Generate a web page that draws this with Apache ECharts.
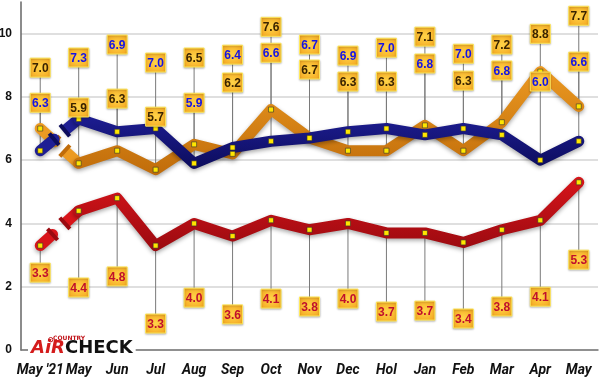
<!DOCTYPE html>
<html>
<head>
<meta charset="utf-8">
<script src="https://cdn.jsdelivr.net/npm/echarts@6/dist/echarts.min.js"></script>
<style>
html,body{margin:0;padding:0;background:#fff;}
#chart{width:600px;height:383px;}
</style>
</head>
<body>
<div id="chart"></div>
<script>
const categories = ["May '21","May","Jun","Jul","Aug","Sep","Oct","Nov","Dec","Hol","Jan","Feb","Mar","Apr","May"];
const orangeValues = [7.0,5.9,6.3,5.7,6.5,6.2,7.6,6.7,6.3,6.3,7.1,6.3,7.2,8.8,7.7];
const blueValues   = [6.3,7.3,6.9,7.0,5.9,6.4,6.6,6.7,6.9,7.0,6.8,7.0,6.8,6.0,6.6];
const redValues    = [3.3,4.4,4.8,3.3,4.0,3.6,4.1,3.8,4.0,3.7,3.7,3.4,3.8,4.1,5.3];
// where each value box sits, in axis units
const orangeLabelAt = [8.91,7.65,7.93,7.36,9.23,8.44,10.2,8.85,8.47,8.47,9.89,8.5,9.64,9.98,10.55];
const blueLabelAt   = [7.8,9.23,9.64,9.07,7.8,9.32,9.38,9.64,9.29,9.54,9.04,9.35,8.82,8.47,9.1];
const redLabelAt    = [2.43,1.96,2.31,0.82,1.64,1.11,1.61,1.36,1.61,1.2,1.23,0.98,1.36,1.67,2.84];
const yMin = 0, yMax = 11, yInterval = 2;

const seriesDefs = [
  {name:'orange', values:orangeValues, labelAt:orangeLabelAt, color:'#ec9a22', dark:'#c06c0a', text:'#3a2400', brk:[0.38,0.64]},
  {name:'blue', values:blueValues, labelAt:blueLabelAt, color:'#1e1e94', dark:'#0c0c5c', text:'#1414e6', brk:[0.36,0.64]},
  {name:'red', values:redValues, labelAt:redLabelAt, color:'#d8141a', dark:'#9a0a10', text:'#c0102c', brk:[0.32,0.64]}
];

const chart = echarts.init(document.getElementById('chart'));

const labelData = [];
seriesDefs.forEach((s, si) => {
  s.values.forEach((v, i) => labelData.push([i, v, s.labelAt[i], si]));
});
const breakData = seriesDefs.map((s, si) => [0, s.values[0], s.values[1], si]);

const shadow = {shadowColor:'rgba(0,0,0,0.35)', shadowBlur:4, shadowOffsetY:2};
const LW = 11;

const lineSeries = seriesDefs.map((s) => ({
  type:'line',
  name:s.name,
  data:s.values.map((v, i) => i === 0 ? '-' : v),
  z:3,
  symbol:'rect',
  symbolSize:5,
  showSymbol:true,
  itemStyle:{color:'#ffe600', borderColor:'#333', borderWidth:0.6},
  lineStyle:Object.assign({width:LW, color:new echarts.graphic.LinearGradient(0,0,0,1,[{offset:0,color:s.color},{offset:1,color:s.dark}]), cap:'round', join:'round'}, shadow),
  animation:false
}));

function leaderRender(params, api){
  const x = api.value(0);
  const p = api.coord([x, api.value(1)]);
  const l = api.coord([x, api.value(2)]);
  return {type:'line', shape:{x1:p[0], y1:p[1], x2:l[0], y2:l[1]}, style:{stroke:'#7a7a7a', lineWidth:1}};
}

function labelRender(params, api){
  const x = api.value(0);
  const v = api.value(1);
  const s = seriesDefs[api.value(3)];
  const l = api.coord([x, api.value(2)]);
  return {type:'group', children:[
    {type:'rect', shape:{x:l[0]-10, y:l[1]-10, width:20, height:19},
     style:{fill:new echarts.graphic.RadialGradient(0.5,0.5,0.75,[{offset:0,color:'#ffd448'},{offset:1,color:'#f3a11c'}]),
            stroke:'#ffe85a', lineWidth:1, shadowColor:'rgba(0,0,0,0.25)', shadowBlur:2, shadowOffsetY:1}},
    {type:'text', style:{text:v.toFixed(1), x:l[0], y:l[1]+0.5, align:'center', verticalAlign:'middle',
      font:'bold 12px "Liberation Sans", Arial, sans-serif', fill:s.text}}
  ]};
}

function breakRender(params, api){
  const s = seriesDefs[api.value(3)];
  const p0 = api.coord([0, api.value(1)]);
  const p1 = api.coord([1, api.value(2)]);
  const pt = t => [p0[0] + (p1[0]-p0[0])*t, p0[1] + (p1[1]-p0[1])*t];
  const dx = p1[0]-p0[0], dy = p1[1]-p0[1];
  const len = Math.sqrt(dx*dx+dy*dy);
  const nx = -dy/len*7.5, ny = dx/len*7.5;
  const a = pt(s.brk[0]), b = pt(s.brk[1]);
  return {type:'group', children:[
    {type:'line', shape:{x1:p0[0], y1:p0[1], x2:a[0], y2:a[1]}, style:Object.assign({stroke:s.color, lineWidth:LW, lineCap:'round'}, shadow)},
    {type:'line', shape:{x1:b[0], y1:b[1], x2:p1[0], y2:p1[1]}, style:Object.assign({stroke:s.color, lineWidth:LW, lineCap:'butt'}, shadow)},
    {type:'line', shape:{x1:a[0]-nx, y1:a[1]-ny, x2:a[0]+nx, y2:a[1]+ny}, style:{stroke:s.dark, lineWidth:4}},
    {type:'line', shape:{x1:b[0]-nx, y1:b[1]-ny, x2:b[0]+nx, y2:b[1]+ny}, style:{stroke:s.dark, lineWidth:4}},
    {type:'rect', shape:{x:p0[0]-2.5, y:p0[1]-2.5, width:5, height:5}, style:{fill:'#ffe600', stroke:'#333', lineWidth:0.6}}
  ]};
}

const option = {
  animation:false,
  backgroundColor:'#ffffff',
  grid:{left:21, right:2, top:2, bottom:33, containLabel:false, outerBoundsMode:'none'},
  xAxis:{
    type:'category',
    data:categories,
    boundaryGap:true,
    axisLine:{lineStyle:{color:'#777', width:1.5}},
    axisTick:{inside:true, length:7, alignWithLabel:true, lineStyle:{color:'#777'}},
    axisLabel:{margin:13, color:'#111', fontSize:14, fontWeight:'bold', fontStyle:'italic', fontFamily:'Roboto, sans-serif', interval:0},
    splitLine:{show:false}
  },
  yAxis:{
    type:'value',
    min:yMin, max:yMax, interval:yInterval,
    axisLine:{show:true, lineStyle:{color:'#666', width:1.5}},
    axisTick:{show:false},
    axisLabel:{margin:9, color:'#111', fontSize:12, fontWeight:'bold', fontFamily:'"Liberation Sans", Arial, sans-serif', padding:[12,0,0,0], showMaxLabel:false},
    splitLine:{show:true, showMaxLine:false, lineStyle:{color:'#d4d4d4', width:1.5}}
  },
  graphic:[
    {type:'text', left:28, top:339, z:100,
     style:{text:'{a|AiR}{c|CHECK}', backgroundColor:'#fff', padding:[0,3,0,3],
       rich:{a:{fill:'#d41c1c', font:'italic 900 18px "DejaVu Sans", Arial, sans-serif'}, c:{fill:'#111', font:'900 18px "DejaVu Sans", Arial, sans-serif'}}}},
    {type:'text', left:53, top:335, z:101, style:{text:'COUNTRY', fill:'#c0141a', font:'bold 6px "DejaVu Sans", Arial, sans-serif'}},
    {type:'circle', left:46, top:335, z:101, shape:{r:2.2}, style:{fill:'none', stroke:'#c0141a', lineWidth:1}}
  ],
  series:[
    {type:'custom', name:'leaders', data:labelData, z:1, renderItem:leaderRender, encode:{x:0, y:[1,2]}, animation:false, silent:true},
    {type:'custom', name:'breaks', data:breakData, z:3, renderItem:breakRender, encode:{x:0, y:[1,2]}, animation:false, silent:true}
  ].concat(lineSeries).concat([
    {type:'custom', name:'labels', data:labelData, z:10, renderItem:labelRender, encode:{x:0, y:[1,2]}, animation:false, silent:true}
  ])
};
chart.setOption(option);
</script>
</body>
</html>
